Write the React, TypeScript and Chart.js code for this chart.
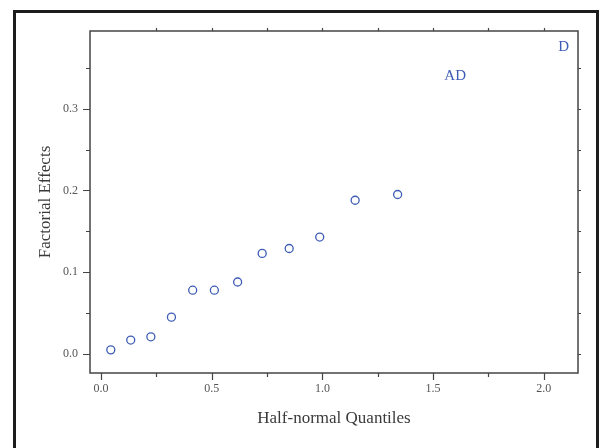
import React, { useEffect, useRef } from 'react';
import { Chart, registerables } from 'chart.js';

Chart.register(...registerables);

// Half-normal plot of factorial effects
const quantiles = [0.044, 0.134, 0.225, 0.318, 0.414, 0.512, 0.617, 0.728, 0.85, 0.988, 1.148, 1.34];
const effects = [0.005, 0.017, 0.021, 0.045, 0.078, 0.078, 0.088, 0.123, 0.129, 0.143, 0.188, 0.195];

const labelNames = ['AD', 'D'];
const labelQuantiles = [1.6, 2.09];
const labelEffects = [0.34, 0.375];

const xMin = -0.05;
const xMax = 2.155;
const yMin = -0.0233;
const yMax = 0.395;
const xStep = 0.25;
const yStep = 0.05;
const xLabelStep = 0.5;
const yLabelStep = 0.1;

const FONT = "'Liberation Serif', 'Times New Roman', serif";
const BLUE = '#3d5cb5';

const isMultiple = (v: number, step: number) => Math.abs(v / step - Math.round(v / step)) < 1e-6;

const decor = {
  id: 'decor',
  beforeDraw(chart: any) {
    const ctx = chart.ctx;
    ctx.save();
    ctx.fillStyle = '#ffffff';
    ctx.fillRect(0, 0, chart.width, chart.height);
    ctx.restore();
  },
  afterDraw(chart: any) {
    const { ctx, chartArea: a } = chart;
    const xs = chart.scales.x;
    const ys = chart.scales.y;
    ctx.save();
    // outer frame
    ctx.strokeStyle = '#1c1c1c';
    ctx.lineWidth = 3;
    ctx.beginPath();
    ctx.moveTo(14.5, 470);
    ctx.lineTo(14.5, 11.5);
    ctx.lineTo(597.5, 11.5);
    ctx.lineTo(597.5, 470);
    ctx.stroke();

    // plot frame
    ctx.strokeStyle = '#444444';
    ctx.lineWidth = 1.5;
    ctx.strokeRect(a.left, a.top, a.right - a.left, a.bottom - a.top);

    // ticks
    ctx.strokeStyle = '#444444';
    ctx.lineWidth = 1.2;
    ctx.beginPath();
    xs.ticks.forEach((t: any) => {
      const px = Math.round(xs.getPixelForValue(t.value)) + 0.5;
      const major = isMultiple(t.value, xLabelStep);
      ctx.moveTo(px, a.bottom);
      ctx.lineTo(px, a.bottom + (major ? 7 : 4));
      if (t.value > 0.01) {
        ctx.moveTo(px, a.top);
        ctx.lineTo(px, a.top - 3);
      }
    });
    ys.ticks.forEach((t: any) => {
      const py = Math.round(ys.getPixelForValue(t.value)) + 0.5;
      const major = isMultiple(t.value, yLabelStep);
      ctx.moveTo(a.left, py);
      ctx.lineTo(a.left - (major ? 7 : 4), py);
      ctx.moveTo(a.right, py);
      ctx.lineTo(a.right + 3, py);
    });
    ctx.stroke();
    ctx.restore();
  },
  afterDatasetsDraw(chart: any) {
    const meta = chart.getDatasetMeta(1);
    const ctx = chart.ctx;
    ctx.save();
    ctx.fillStyle = BLUE;
    ctx.font = `15px ${FONT}`;
    ctx.textAlign = 'center';
    ctx.textBaseline = 'middle';
    meta.data.forEach((el: any, i: number) => {
      ctx.fillText(labelNames[i], el.x, el.y);
    });
    ctx.restore();
  },
};

export default function App() {
  const ref = useRef<HTMLCanvasElement | null>(null);
  useEffect(() => {
    if (!ref.current) return;
    const chart = new Chart(ref.current, {
      type: 'scatter',
      data: {
        datasets: [
          {
            data: quantiles.map((q, i) => ({ x: q, y: effects[i] })),
            pointStyle: 'circle',
            pointRadius: 4,
            pointBorderWidth: 1.3,
            pointBorderColor: BLUE,
            pointBackgroundColor: '#ffffff',
            showLine: false,
          },
          {
            data: labelQuantiles.map((q, i) => ({ x: q, y: labelEffects[i] })),
            pointRadius: 0,
            showLine: false,
          },
        ],
      },
      options: {
        responsive: false,
        animation: false,
        devicePixelRatio: 1,
        layout: { padding: { left: 0, top: 31, right: 23, bottom: 0 } },
        plugins: { legend: { display: false }, tooltip: { enabled: false } },
        scales: {
          x: {
            type: 'linear',
            min: xMin,
            max: xMax,
            grid: { display: false, drawTicks: false },
            border: { display: false },
            ticks: {
              stepSize: xStep,
              includeBounds: false,
              autoSkip: false,
              maxRotation: 0,
              padding: 9,
              color: '#555555',
              font: { family: FONT, size: 12 },
              callback: (v: any) => (isMultiple(Number(v), xLabelStep) ? Number(v).toFixed(1) : ''),
            },
            title: {
              display: true,
              text: 'Half-normal Quantiles',
              color: '#3a3a3a',
              font: { family: FONT, size: 17 },
              padding: { top: 0, bottom: 19 },
            },
            afterFit: (s: any) => {
              s.height = 75;
            },
          },
          y: {
            type: 'linear',
            min: yMin,
            max: yMax,
            grid: { display: false, drawTicks: false },
            border: { display: false },
            ticks: {
              stepSize: yStep,
              includeBounds: false,
              autoSkip: false,
              padding: 12,
              color: '#555555',
              font: { family: FONT, size: 12 },
              callback: (v: any) => (isMultiple(Number(v), yLabelStep) ? Number(v).toFixed(1) : ''),
            },
            title: {
              display: true,
              text: 'Factorial Effects',
              color: '#3a3a3a',
              font: { family: FONT, size: 17 },
              padding: { top: 35, bottom: 0 },
            },
            afterFit: (s: any) => {
              s.width = 90;
            },
          },
        },
      },
      plugins: [decor],
    } as any);
    return () => chart.destroy();
  }, []);
  return (
    <div style={{ position: 'fixed', left: 0, top: 0, width: 601, height: 448, background: '#fff' }}>
      <canvas ref={ref} width={601} height={448} style={{ display: 'block' }} />
    </div>
  );
}
